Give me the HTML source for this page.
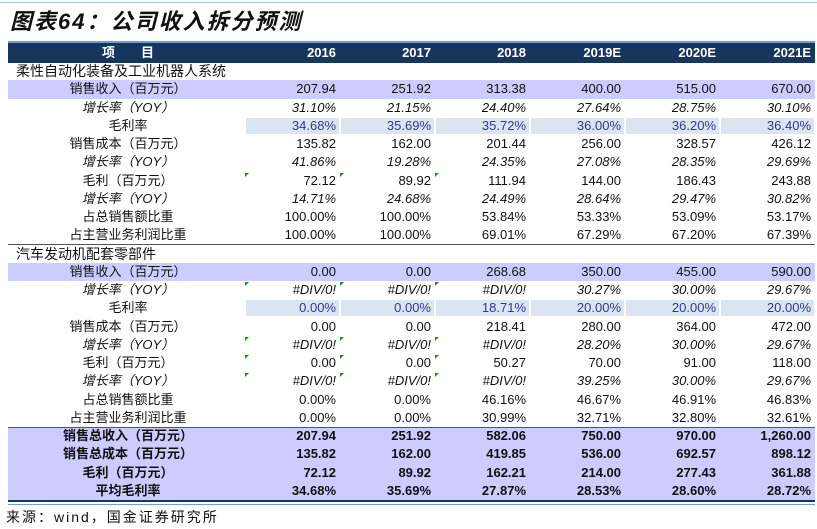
<!DOCTYPE html>
<html><head><meta charset="utf-8"><style>
body{margin:0;width:817px;height:529px;background:#fff;position:relative;overflow:hidden;font-family:"Liberation Sans","Noto Sans CJK SC",sans-serif;}
.t{position:absolute;left:10px;top:4px;font-size:22px;font-weight:bold;font-style:italic;color:#111;letter-spacing:2px;}
.row{position:absolute;left:8px;width:807px;height:18.25px;font-size:13px;color:#111;}
.row div{position:absolute;top:0;height:100%;line-height:18.25px;white-space:nowrap;}
.lab{left:0;width:240px;text-align:center;}
.c{width:86px;text-align:right;}
.p{background:#ccccff;}
.i{font-style:italic;}
.b{font-weight:bold;}
.bl div.c{color:#2e3a8c;}
.bl .cell{position:absolute;top:1px;height:16px;background:#dbe5f1;}
.tri{position:absolute;width:0;height:0;border-top:4px solid #2a8a2a;border-right:4px solid transparent;}
</style></head><body>
<div style="position:absolute;left:0;top:2px;width:817px;height:1px;background:#9ec3e0"></div>
<div class="t">图表64：公司收入拆分预测</div>
<div style="position:absolute;left:8px;top:41px;width:807px;height:20px;background:#17365d;border-top:2px solid #6fa0d0;color:#fff;font-weight:bold;font-size:13px;">
<div style="position:absolute;left:0;width:240px;text-align:center;line-height:20px">项　　目</div>
<div style="position:absolute;left:242px;width:86px;text-align:right;line-height:20px">2016</div>
<div style="position:absolute;left:337px;width:86px;text-align:right;line-height:20px">2017</div>
<div style="position:absolute;left:432px;width:86px;text-align:right;line-height:20px">2018</div>
<div style="position:absolute;left:527px;width:86px;text-align:right;line-height:20px">2019E</div>
<div style="position:absolute;left:622px;width:86px;text-align:right;line-height:20px">2020E</div>
<div style="position:absolute;left:717px;width:86px;text-align:right;line-height:20px">2021E</div>
</div>
<div id="rows"></div>
<script>
const L=[242,337,432,527,622,717];
const rows=[
['s','柔性自动化装备及工业机器人系统'],
['p','销售收入（百万元）',['207.94','251.92','313.38','400.00','515.00','670.00']],
['i','增长率（YOY）',['31.10%','21.15%','24.40%','27.64%','28.75%','30.10%']],
['bl','毛利率',['34.68%','35.69%','35.72%','36.00%','36.20%','36.40%']],
['','销售成本（百万元）',['135.82','162.00','201.44','256.00','328.57','426.12']],
['i','增长率（YOY）',['41.86%','19.28%','24.35%','27.08%','28.35%','29.69%']],
['','毛利（百万元）',['72.12','89.92','111.94','144.00','186.43','243.88']],
['i','增长率（YOY）',['14.71%','24.68%','24.49%','28.64%','29.47%','30.82%']],
['','占总销售额比重',['100.00%','100.00%','53.84%','53.33%','53.09%','53.17%']],
['line','占主营业务利润比重',['100.00%','100.00%','69.01%','67.29%','67.20%','67.39%']],
['s','汽车发动机配套零部件'],
['p','销售收入（百万元）',['0.00','0.00','268.68','350.00','455.00','590.00']],
['i','增长率（YOY）',['#DIV/0!','#DIV/0!','#DIV/0!','30.27%','30.00%','29.67%']],
['bl','毛利率',['0.00%','0.00%','18.71%','20.00%','20.00%','20.00%']],
['','销售成本（百万元）',['0.00','0.00','218.41','280.00','364.00','472.00']],
['i','增长率（YOY）',['#DIV/0!','#DIV/0!','#DIV/0!','28.20%','30.00%','29.67%']],
['','毛利（百万元）',['0.00','0.00','50.27','70.00','91.00','118.00']],
['i','增长率（YOY）',['#DIV/0!','#DIV/0!','#DIV/0!','39.25%','30.00%','29.67%']],
['','占总销售额比重',['0.00%','0.00%','46.16%','46.67%','46.91%','46.83%']],
['','占主营业务利润比重',['0.00%','0.00%','30.99%','32.71%','32.80%','32.61%']],
['pb','销售总收入（百万元）',['207.94','251.92','582.06','750.00','970.00','1,260.00']],
['pb','销售总成本（百万元）',['135.82','162.00','419.85','536.00','692.57','898.12']],
['pb','毛利（百万元）',['72.12','89.92','162.21','214.00','277.43','361.88']],
['pb','平均毛利率',['34.68%','35.69%','27.87%','28.53%','28.60%','28.72%']],
];
let h='';
rows.forEach((r,i)=>{
 const top=62+i*18.25;const k=r[0];
 let cls='row';if(k=='p'||k=='pb')cls+=' p';if(k=='pb')cls+=' b';if(k=='bl')cls+=' bl';
 h+=`<div class="${cls}" style="top:${top}px">`;
 if(k=='s'){h+=`<div style="left:8px;font-size:14px;">${r[1]}</div>`;}
 else{
  h+=`<div class="lab${k=='i'?' i':''}">${r[1]}</div>`;
  if(k=='bl'){L.forEach(x=>{h+=`<span class="cell" style="left:${x-4}px;width:93px"></span>`});}
  r[2].forEach((v,j)=>{h+=`<div class="c${k=='i'?' i':''}" style="left:${L[j]}px">${v}</div>`});
 }
 h+='</div>';
 if(k=='line')h+=`<div style="position:absolute;left:8px;width:807px;top:${top+18}px;height:1px;background:#555"></div>`;
 if((k=='i'&&i>10)||i==6||i==16){[245,340,435].forEach(x=>{h+=`<span class="tri" style="left:${x}px;top:${top+1}px"></span>`});}
});
h+=`<div style="position:absolute;left:8px;width:807px;top:${62+20*18.25}px;height:1px;background:#555"></div>`;
document.getElementById('rows').innerHTML=h;
</script>
<div style="position:absolute;left:8px;top:500px;width:807px;height:2px;background:#17365d"></div>
<div style="position:absolute;left:8px;top:504px;width:807px;height:1px;background:#6fa0d0"></div>
<div style="position:absolute;left:6px;top:507px;font-size:14px;color:#111;letter-spacing:2px">来源：wind，国金证券研究所</div>
</body></html>
